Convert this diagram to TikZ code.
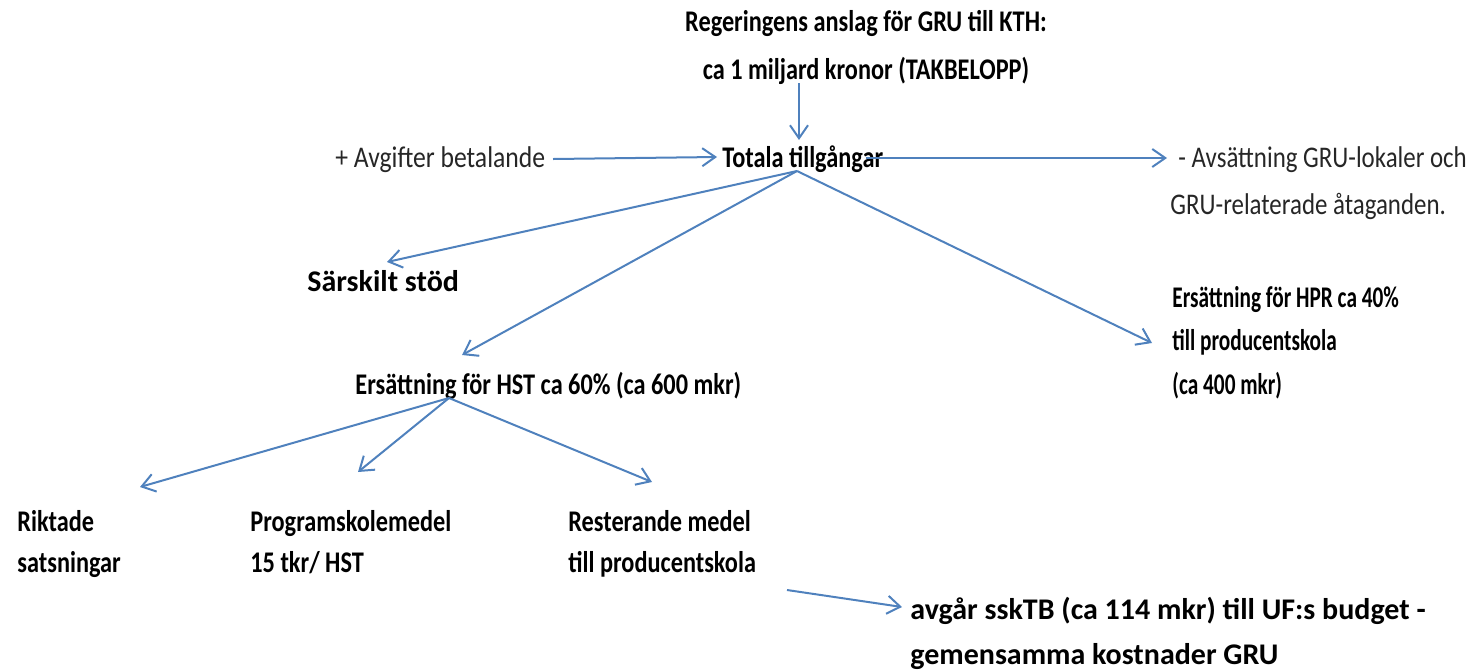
\documentclass[tikz,border=0pt]{standalone}
\usepackage{fontspec}
\setmainfont{Carlito}
\newfontfamily\condA[FakeStretch=0.81]{Carlito}
\newfontfamily\condH[FakeStretch=0.71]{Carlito}
\newfontfamily\condR[FakeStretch=0.855]{Carlito}
\newfontfamily\condRR[FakeStretch=0.83]{Carlito}
\usetikzlibrary{arrows.meta}
\definecolor{linkblue}{RGB}{79,129,189}
\begin{document}
\begin{tikzpicture}[x=0.5pt,y=-0.5pt,
  txt/.style={inner sep=0pt, font=\condA\fontsize{15}{20.5}\selectfont\bfseries, align=left, anchor=base west},
  widetxt/.style={txt, font=\rmfamily\fontsize{15}{22.5}\selectfont\bfseries},
  lighttxt/.style={txt, font=\condR\fontsize{15}{23.5}\selectfont, text=black!85},
  conn/.style={draw=linkblue, line width=1pt, -{Straight Barb[length=6.5pt,width=9pt,line width=1pt]}}]
\useasboundingbox (0,0) rectangle (1472,670);

% texts (base anchor = baseline of the last line)
\node[txt, align=center, anchor=base, font=\condA\fontsize{15}{24}\selectfont\bfseries] (gov) at (866,79) {Regeringens anslag för GRU till KTH:\\ca 1 miljard kronor (TAKBELOPP)};
\node[txt] (tot) at (722,167) {Totala tillgångar};
\node[lighttxt] (avg) at (335,167) {+ Avgifter betalande};
\node[lighttxt, font=\condRR\fontsize{15}{23.5}\selectfont] (avs) at (1170,214) {\hspace*{4pt}- Avsättning GRU-lokaler och\\GRU-relaterade åtaganden.};
\node[widetxt] (sar) at (307,291) {Särskilt stöd};
\node[txt, font=\condH\fontsize{15}{21.7}\selectfont\bfseries] (hpr) at (1172,394) {Ersättning för HPR ca 40\%\\till producentskola\\(ca 400 mkr)};
\node[txt] (hst) at (355,394) {Ersättning för HST ca 60\% (ca 600 mkr)};
\node[txt] (rik) at (17,572) {Riktade\\satsningar};
\node[txt] (prg) at (250,572) {Programskolemedel\\15 tkr/ HST};
\node[txt] (res) at (568,572) {Resterande medel\\till producentskola};
\node[widetxt] (avgar) at (910,664) {avgår sskTB (ca 114 mkr) till UF:s budget -\\gemensamma kostnader GRU};

% hubs and free ends
\coordinate (govout) at (799,83);
\coordinate (totin) at (799,140);
\coordinate (avgout) at (553,159);
\coordinate (totinl) at (717,157);
\coordinate (totoutr) at (866,158);
\coordinate (avsin) at (1167,158);
\coordinate (hubT) at (797,171);
\coordinate (sarin) at (387,262);
\coordinate (hstin) at (462,355);
\coordinate (hprin) at (1152,343);
\coordinate (hubH) at (449,398);
\coordinate (rikin) at (140,487);
\coordinate (prgin) at (358,472);
\coordinate (resin) at (652,482);
\coordinate (resout) at (787,590);
\coordinate (avgarin) at (902,607);

% connectors
\draw[conn] (govout) -- (totin);
\draw[conn] (avgout) -- (totinl);
\draw[conn] (totoutr) -- (avsin);
\draw[conn] (hubT) -- (sarin);
\draw[conn] (hubT) -- (hstin);
\draw[conn] (hubT) -- (hprin);
\draw[conn] (hubH) -- (rikin);
\draw[conn] (hubH) -- (prgin);
\draw[conn] (hubH) -- (resin);
\draw[conn] (resout) -- (avgarin);
\end{tikzpicture}
\end{document}
